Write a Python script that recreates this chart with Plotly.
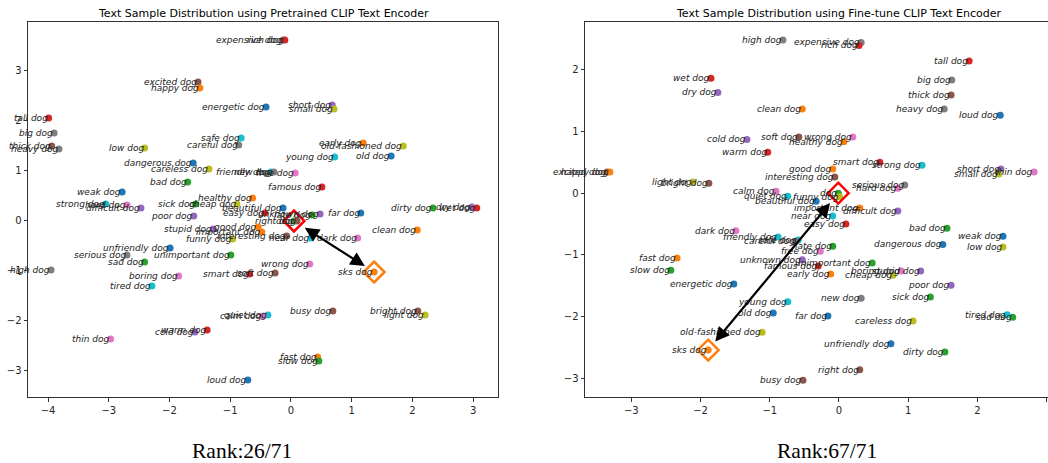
import plotly.graph_objects as go

TAB = {"blue": "#1f77b4", "orange": "#ff7f0e", "green": "#2ca02c", "red": "#d62728",
       "purple": "#9467bd", "brown": "#8c564b", "pink": "#e377c2", "gray": "#7f7f7f",
       "olive": "#bcbd22", "cyan": "#17becf"}

words = ["expensive dog", "rich dog", "excited dog", "happy dog", "energetic dog", "short dog",
         "small dog", "tall dog", "big dog", "thick dog", "heavy dog", "low dog", "safe dog",
         "careful dog", "early dog", "old-fashioned dog", "young dog", "old dog", "dangerous dog",
         "careless dog", "friendly dog", "new dog", "free dog", "famous dog", "weak dog", "bad dog",
         "strong dog", "hard dog", "difficult dog", "sick dog", "cheap dog", "healthy dog",
         "poor dog", "beautiful dog", "easy dog", "late dog", "unknown dog", "dog", "right dog",
         "far dog", "dirty dog", "dry dog", "wet dog", "clean dog", "stupid dog", "important dog",
         "good dog", "interesting dog", "near dog", "funny dog", "dark dog", "unfriendly dog",
         "unimportant dog", "serious dog", "sad dog", "high dog", "boring dog", "tired dog",
         "smart dog", "soft dog", "wrong dog", "sks dog", "busy dog", "bright dog", "light dog",
         "quiet dog", "calm dog", "warm dog", "cold dog", "thin dog", "fast dog", "slow dog",
         "loud dog"]

colors = ["gray", "red", "brown", "orange", "blue", "purple",
          "olive", "red", "gray", "brown", "gray", "olive", "cyan",
          "gray", "orange", "olive", "cyan", "blue", "blue",
          "olive", "cyan", "gray", "pink", "red", "blue", "green",
          "cyan", "pink", "purple", "green", "olive", "orange",
          "purple", "blue", "red", "green", "purple", "green", "brown",
          "blue", "green", "purple", "red", "orange", "purple", "orange",
          "orange", "brown", "cyan", "olive", "pink", "blue",
          "green", "gray", "green", "gray", "pink", "cyan",
          "red", "brown", "pink", "orange", "brown", "brown", "olive",
          "cyan", "pink", "red", "purple", "pink", "orange", "green",
          "blue"]

# Pretrained CLIP embedding (left)
left_x = [-0.13, -0.10, -1.53, -1.50, -0.41, 0.68,
          0.71, -3.99, -3.90, -3.94, -3.82, -2.41, -0.82,
          -0.86, 1.19, 1.85, 0.72, 1.65, -1.61,
          -1.35, -0.33, -0.28, 0.07, 0.51, -2.78, -1.70,
          -3.05, -2.70, -2.47, -1.57, -0.89, -0.63,
          -1.60, -0.13, -0.43, 0.35, 0.48, 0.05, 0.10,
          1.15, 2.34, 2.98, 3.06, 2.08, -1.28, -0.48,
          -0.54, -0.07, 0.33, -0.96, 1.10, -1.99,
          -0.99, -2.70, -2.41, -3.95, -1.85, -2.29,
          -0.68, -0.26, 0.31, 1.37, 0.69, 2.09, 2.21,
          -0.38, -0.46, -1.38, -1.58, -2.97, 0.44, 0.46,
          -0.71]
left_y = [3.60, 3.60, 2.76, 2.64, 2.26, 2.30,
          2.22, 2.04, 1.74, 1.48, 1.42, 1.44, 1.64,
          1.50, 1.54, 1.48, 1.26, 1.28, 1.14,
          1.02, 0.96, 0.96, 0.94, 0.66, 0.56, 0.76,
          0.32, 0.30, 0.24, 0.32, 0.32, 0.44,
          0.08, 0.24, 0.14, 0.10, 0.12, -0.02, -0.02,
          0.14, 0.24, 0.26, 0.24, -0.20, -0.18, -0.24,
          -0.14, -0.32, -0.36, -0.38, -0.36, -0.56,
          -0.70, -0.70, -0.84, -1.00, -1.12, -1.32,
          -1.08, -1.06, -0.88, -1.04, -1.82, -1.82, -1.90,
          -1.90, -1.92, -2.20, -2.24, -2.38, -2.74, -2.82,
          -3.20]

# Fine-tuned CLIP embedding (right)
right_x = [0.32, 0.29, -3.35, -3.31, -1.52, 2.34,
           2.31, 1.88, 1.63, 1.62, 1.52, 2.37, -0.59,
           -0.62, -0.12, -1.11, -0.74, -0.95, 1.50,
           1.07, -0.88, 0.32, -0.27, -0.30, 2.37, 1.56,
           1.20, 0.85, 0.85, 1.32, 0.78, 0.07,
           1.62, -0.33, 0.10, -0.09, -0.53, -0.01, 0.30,
           -0.16, 1.53, -1.75, -1.85, -0.53, 1.18, 0.30,
           -0.09, -0.06, -0.09, 0.01, -1.49, 0.75,
           0.48, 0.95, 2.51, -0.81, 0.90, 2.43,
           0.59, -0.58, 0.20, -1.89, -0.52, -1.88, -2.11,
           -0.74, -0.91, -1.03, -1.33, 2.82, -2.34, -2.43,
           2.33]
right_y = [2.44, 2.39, 0.34, 0.34, -1.47, 0.39,
           0.31, 2.14, 1.83, 1.59, 1.36, -0.87, -0.76,
           -0.78, -1.31, -2.25, -1.76, -1.94, -0.83,
           -2.07, -0.71, -1.70, -0.94, -1.18, -0.70, -0.57,
           0.45, 0.08, -0.29, -1.68, -1.33, 0.83,
           -1.49, -0.13, -0.50, -0.86, -1.08, 0.00, -2.86,
           -1.99, -2.57, 1.63, 1.86, 1.36, -1.26, -0.24,
           0.39, 0.26, -0.37, -0.06, -0.61, -2.44,
           -1.13, 0.13, -2.01, 2.48, -1.26, -1.97,
           0.50, 0.91, 0.91, -2.54, -3.03, 0.16, 0.18,
           -0.05, 0.03, 0.66, 0.87, 0.34, -1.05, -1.25,
           1.26]

panel_titles = ["Text Sample Distribution using Pretrained CLIP Text Encoder",
                "Text Sample Distribution using Fine-tune CLIP Text Encoder"]
ranks = ["Rank:26/71", "Rank:67/71"]
target_word = "dog"
prompt_word = "sks dog"

W, H = 1048, 463
left_dom = [28 / W, 498 / W]
right_dom = [585 / W, 1.0]
y_dom = [66 / H, 441 / H]

fig = go.Figure()
annotations = []
mcolors = [TAB[c] for c in colors]
label_font = dict(family="DejaVu Sans", size=9, color="#222222", style="italic")

for xs, ys, xa, ya in [(left_x, left_y, "x", "y"), (right_x, right_y, "x2", "y2")]:
    for w, x, y in zip(words, xs, ys):
        annotations.append(dict(x=x, y=y, xref=xa, yref=ya, text=w, showarrow=False,
                                xanchor="right", yanchor="middle", xshift=1,
                                font=label_font))
    fig.add_trace(go.Scatter(x=xs, y=ys, mode="markers", xaxis=xa, yaxis=ya,
                             marker=dict(size=7, color=mcolors, line=dict(width=0)),
                             hovertext=words, showlegend=False))
    ti = words.index(target_word)
    si = words.index(prompt_word)
    fig.add_trace(go.Scatter(x=[xs[ti]], y=[ys[ti]], mode="markers", xaxis=xa, yaxis=ya,
                             marker=dict(symbol="diamond-open", size=16, color="#ff0000",
                                         line=dict(width=2.5, color="#ff0000")),
                             showlegend=False))
    fig.add_trace(go.Scatter(x=[xs[si]], y=[ys[si]], mode="markers", xaxis=xa, yaxis=ya,
                             marker=dict(symbol="diamond-open", size=16, color="#ff7f0e",
                                         line=dict(width=2.5, color="#ff7f0e")),
                             showlegend=False))
    annotations.append(dict(x=xs[si], y=ys[si], ax=xs[ti], ay=ys[ti], xref=xa, yref=ya,
                            axref=xa, ayref=ya, text="", showarrow=True,
                            arrowside="end+start", arrowhead=2, startarrowhead=2,
                            arrowsize=1.3, startarrowsize=1.3, arrowwidth=2.2,
                            arrowcolor="black", standoff=11, startstandoff=11))

for t, cx in zip(panel_titles, [263 / W, 839 / W]):
    annotations.append(dict(x=cx, y=(H - 13) / H, xref="paper", yref="paper", text=t,
                            showarrow=False, xanchor="center", yanchor="middle",
                            font=dict(family="DejaVu Sans", size=11, color="black")))
for t, cx in zip(ranks, [242 / W, 827 / W]):
    annotations.append(dict(x=cx, y=(H - 451) / H, xref="paper", yref="paper", text=t,
                            showarrow=False, xanchor="center", yanchor="middle",
                            font=dict(family="Liberation Serif", size=21.5, color="black")))

axis_common = dict(showgrid=False, zeroline=False, showline=True, linecolor="#333",
                   linewidth=1, ticks="outside", ticklen=3.5, tickcolor="#333",
                   tickfont=dict(family="DejaVu Sans", size=10, color="#262626"), dtick=1)

fig.update_layout(
    width=W, height=H, margin=dict(l=0, r=0, t=0, b=0),
    paper_bgcolor="white", plot_bgcolor="white",
    xaxis=dict(domain=left_dom, range=[-4.33, 3.41], mirror=True, anchor="y", **axis_common),
    yaxis=dict(domain=y_dom, range=[-3.54, 3.96], mirror=True, anchor="x", **axis_common),
    xaxis2=dict(domain=right_dom, range=[-3.67, 3.02], mirror=True, anchor="y2", **axis_common),
    yaxis2=dict(domain=y_dom, range=[-3.30, 2.77], mirror=False, anchor="x2", **axis_common),
    annotations=annotations,
)

fig.write_html("out.html", config={"displayModeBar": False},
               post_script="document.body.style.margin='0';document.body.style.overflow='hidden';")
